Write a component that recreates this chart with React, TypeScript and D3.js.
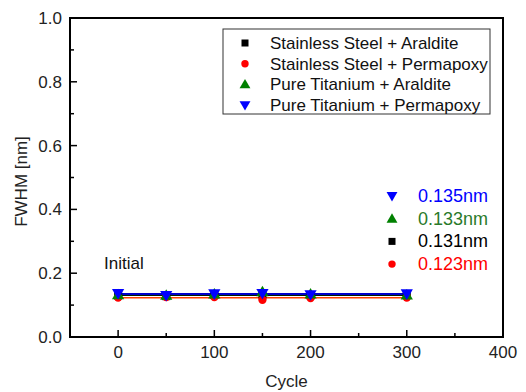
import React from "react";
import * as d3 from "d3";

const cycles = [0, 50, 100, 150, 200, 300];
const seriesNames = [
  "Stainless Steel + Araldite",
  "Stainless Steel + Permapoxy",
  "Pure Titanium + Araldite",
  "Pure Titanium + Permapoxy",
];
const ssAraldite = [0.130, 0.128, 0.132, 0.133, 0.131, 0.132];
const ssPermapoxy = [0.124, 0.125, 0.125, 0.117, 0.122, 0.124];
const tiAraldite = [0.132, 0.130, 0.134, 0.141, 0.134, 0.131];
const tiPermapoxy = [0.137, 0.131, 0.136, 0.137, 0.133, 0.136];
const fitValues = [0.131, 0.123, 0.133, 0.135];
const fitLabels = ["0.131nm", "0.123nm", "0.133nm", "0.135nm"];
const colors = ["#000000", "#ff0000", "#008000", "#0000ff"];
const lineColors = ["#000000", "#ff4000", "#008000", "#0000cc"];
const shapes = ["square", "circle", "up", "down"];
const xTicks = [0, 100, 200, 300, 400];
const xMinor = [-50, 50, 150, 250, 350];
const yTicks = [0.0, 0.2, 0.4, 0.6, 0.8, 1.0];
const yMinor = [0.1, 0.3, 0.5, 0.7, 0.9];
const annotationOrder = [3, 2, 0, 1];

const W = 526, H = 392;
const m = { left: 70, right: 503, top: 18, bottom: 337 };

function Marker({ shape, x, y, color, s = 4.5 }: any) {
  if (shape === "square") return <rect x={x - s + 0.5} y={y - s + 0.5} width={2 * s - 1} height={2 * s - 1} fill={color} />;
  if (shape === "circle") return <circle cx={x} cy={y} r={s - 0.3} fill={color} />;
  const sym = d3.symbol().type(d3.symbolTriangle).size(s * s * 3.2)();
  return <path d={sym!} transform={`translate(${x},${y + (shape === "up" ? 0.8 : -0.8)}) rotate(${shape === "up" ? 0 : 180})`} fill={color} />;
}

export default function App() {
  const x = d3.scaleLinear().domain([-50, 400]).range([m.left, m.right]);
  const y = d3.scaleLinear().domain([0, 1]).range([m.bottom, m.top]);
  const data = [ssAraldite, ssPermapoxy, tiAraldite, tiPermapoxy];
  const font = "'Liberation Sans', Arial, sans-serif";
  const line = d3.line<[number, number]>().x(d => x(d[0])).y(d => y(d[1]));
  return (
    <svg width={W} height={H} style={{ position: "absolute", left: 0, top: 0, background: "#fff" }} fontFamily={font}>
      <rect width={W} height={H} fill="#fff" />
      {fitValues.map((v, i) => (
        <path key={"l" + i} d={line([[0, v], [300, v]])!} stroke={lineColors[i]} strokeWidth={i === 3 ? 2 : 1.5} fill="none" />
      ))}
      {data.map((s, i) => s.map((v, j) => (
        <Marker key={i + "-" + j} shape={shapes[i]} x={x(cycles[j])} y={y(v)} color={colors[i]} />
      )))}
      <rect x={m.left} y={m.top} width={m.right - m.left} height={m.bottom - m.top} fill="none" stroke="#000" strokeWidth={2} />
      {xTicks.map(t => (
        <g key={"xt" + t}>
          <line x1={x(t)} x2={x(t)} y1={m.bottom} y2={m.bottom - 7} stroke="#000" strokeWidth={1.5} />
          <text x={x(t)} y={358} textAnchor="middle" fontSize={17} fill="#222">{t}</text>
        </g>
      ))}
      {xMinor.map(t => (
        <line key={"xm" + t} x1={x(t)} x2={x(t)} y1={m.bottom} y2={m.bottom - 4} stroke="#000" strokeWidth={1.5} />
      ))}
      {yTicks.map(t => (
        <g key={"yt" + t}>
          <line x1={m.left} x2={m.left + 7} y1={y(t)} y2={y(t)} stroke="#000" strokeWidth={1.5} />
          <text x={62} y={y(t) + 6} textAnchor="end" fontSize={17} fill="#222">{t.toFixed(1)}</text>
        </g>
      ))}
      {yMinor.map(t => (
        <line key={"ym" + t} x1={m.left} x2={m.left + 4} y1={y(t)} y2={y(t)} stroke="#000" strokeWidth={1.5} />
      ))}
      <text x={(m.left + m.right) / 2} y={387} textAnchor="middle" fontSize={17} fill="#222">Cycle</text>
      <text transform={`translate(27,${(m.top + m.bottom) / 2 + 4}) rotate(-90)`} textAnchor="middle" fontSize={17} fill="#222">FWHM [nm]</text>
      <rect x={223} y={29} width={267} height={85} fill="#fff" stroke="#333" strokeWidth={1} />
      {seriesNames.map((n, i) => (
        <g key={"lg" + i}>
          <Marker shape={shapes[i]} x={245} y={43 + i * 20.7} color={colors[i]} s={4} />
          <text x={270} y={49 + i * 20.7} fontSize={17} fill="#111">{n}</text>
        </g>
      ))}
      {annotationOrder.map((si, k) => (
        <g key={"an" + si}>
          <Marker shape={shapes[si]} x={392} y={196 + k * 22.7} color={colors[si]} s={4} />
          <text x={418} y={202 + k * 22.7} fontSize={18} fill={si === 2 ? "#2a7a2a" : colors[si]}>{fitLabels[si]}</text>
        </g>
      ))}
      <text x={104} y={269} fontSize={17} fill="#111">Initial</text>
    </svg>
  );
}
